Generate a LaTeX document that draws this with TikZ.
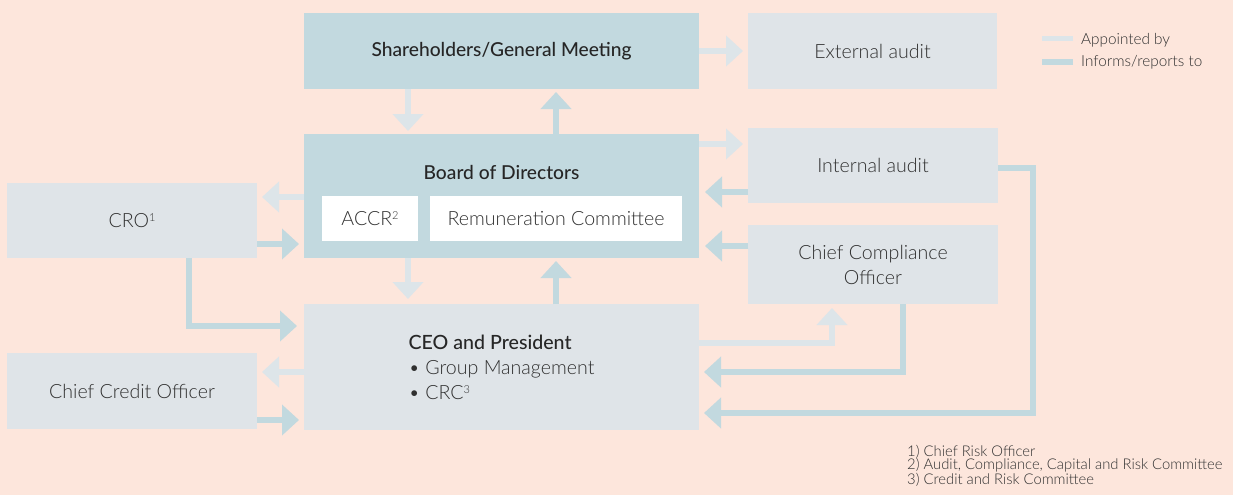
\documentclass[tikz,border=0pt]{standalone}
\usepackage{fontspec}
\setmainfont{Lato}
\newfontfamily\lightfont{Lato Light}
\newfontfamily\midfont{Lato Medium}
\usepackage{tikz}
\usetikzlibrary{positioning,arrows.meta,calc}
\usepackage{xcolor}

\definecolor{peach}{HTML}{FDE6DC}
\definecolor{boxdark}{HTML}{C2D9DF}
\definecolor{boxlite}{HTML}{DFE4E8}
\definecolor{arrlite}{HTML}{DDE5E9}
\definecolor{txtdark}{HTML}{262626}
\definecolor{txtgrey}{HTML}{303030}

% small raised note number
\newcommand{\fnmark}[1]{\raisebox{0.62ex}{\fontsize{11}{11}\selectfont#1}}

\begin{document}
\begin{tikzpicture}[
  x=1pt, y=-1pt,
  font=\lightfont\fontsize{19.6}{25}\selectfont,
  text=txtgrey,
  box/.style={
    rectangle, inner sep=2pt, outer sep=0pt, align=center
  },
  mainbox/.style={box, fill=boxdark, minimum width=395pt},
  sidebox/.style={box, fill=boxlite, minimum width=250pt, minimum height=75pt},
  subbox/.style={box, fill=white, minimum height=45pt},
  head/.style={font=\midfont\fontsize{19.2}{25}\selectfont, text=txtdark},
  appt/.style={line width=5.5pt, draw=arrlite, -{Triangle[length=17pt,width=30pt]}},
  rep/.style={line width=5.5pt, draw=boxdark, -{Triangle[length=17pt,width=30pt]}},
  legline/.style={line width=5pt},
  note/.style={font=\lightfont\fontsize{14.8}{13.5}\selectfont, align=left, inner sep=0pt}
]

\fill[peach] (0,0) rectangle (1233,495);

% main column
\node[mainbox, head, minimum height=76pt] (sh) at (501.5,51) {Shareholders/General Meeting};
\node[mainbox, minimum height=124pt, below=45pt of sh] (bod) {};
\node[head] (bodt) at ([yshift=-38pt]bod.north) {Board of Directors};
\node[subbox, minimum width=96pt, anchor=north west] (accr) at ([xshift=18pt,yshift=-62pt]bod.north west) {ACCR\fnmark{2}};
\node[subbox, minimum width=252pt, right=12pt of accr] (rem) {Remuneration Committee};
\node[box, fill=boxlite, minimum width=395pt, minimum height=126pt, below=46pt of bod, align=left] (ceo)
  {{\midfont\color{txtdark}CEO and President}\\\textbullet{} Group Management\\\textbullet{} CRC\fnmark{3}};

% right column
\node[sidebox, minimum width=249pt, minimum height=76pt, right=49pt of sh] (ext) {External audit};
\node[sidebox, anchor=north west] (ia) at ([xshift=49pt,yshift=6pt]bod.north east) {Internal audit};
\node[sidebox, minimum height=79pt, below=22pt of ia] (cco) {Chief Compliance\\Officer};

% left column
\node[sidebox, anchor=south east] (cro) at ([xshift=-47pt]bod.south west) {CRO\fnmark{1}};
\node[sidebox, minimum height=76pt, anchor=south east] (ccro) at ([xshift=-47pt,yshift=1pt]ceo.south west) {Chief Credit Officer};

\coordinate (aL) at (408,0);
\coordinate (aR) at (556,0);

\draw[appt, shorten >=3pt] (sh.south -| aL) -- (bod.north -| aL);
\draw[rep, shorten >=3pt] (bod.north -| aR) -- (sh.south -| aR);
\draw[appt, shorten >=5pt] (bod.south -| aL) -- (ceo.north -| aL);
\draw[rep, shorten >=3pt] (ceo.north -| aR) -- (bod.south -| aR);

\draw[appt, shorten >=5pt] (sh) -- (ext);
\draw[appt, shorten >=5pt] (bod.east |- 0,144) -- (ia.west |- 0,144);
\draw[rep, shorten >=6pt] (ia.west |- 0,192) -- (bod.east |- 0,192);
\draw[rep, shorten >=6pt] (cco.west |- 0,246) -- (bod.east |- 0,246);
\draw[appt, shorten >=4pt] (ceo.east |- 0,343) -| (cco.south -| 832,0);
\draw[rep, shorten >=5pt] (cco.south -| 903,0) |- (ceo.east |- 0,372);
\draw[rep, shorten >=5pt] (ia.east |- 0,168) -- ++(35,0) |- (ceo.east |- 0,413);

\draw[appt, shorten >=5pt] (bod.west |- 0,197) -- (cro.east |- 0,197);
\draw[rep, shorten >=5pt] (cro.east |- 0,244) -- (bod.west |- 0,244);
\draw[rep, shorten >=7pt] (cro.south -| 189,0) |- (ceo.west |- 0,326);
\draw[appt, shorten >=5pt] (ceo.west |- 0,372) -- (ccro.east |- 0,372);
\draw[rep, shorten >=5pt] (ccro.east |- 0,420) -- (ceo.west |- 0,420);

% legend
\node[note, font=\lightfont\fontsize{15.3}{16}\selectfont, anchor=west] (lga) at (1081,40) {Appointed by};
\node[note, font=\lightfont\fontsize{15.3}{16}\selectfont, anchor=west] (lgr) at (1081,62) {Informs/reports to};
\draw[legline, draw=arrlite] ([xshift=-8pt,yshift=1pt]lga.west) -- ++(-31,0);
\draw[legline, draw=boxdark] ([xshift=-8pt]lgr.west) -- ++(-31,0);

% footnotes
\node[note, anchor=north west] (fn) at (907,445)
  {1) Chief Risk Officer\\2) Audit, Compliance, Capital and Risk Committee\\3) Credit and Risk Committee};

\end{tikzpicture}
\end{document}
